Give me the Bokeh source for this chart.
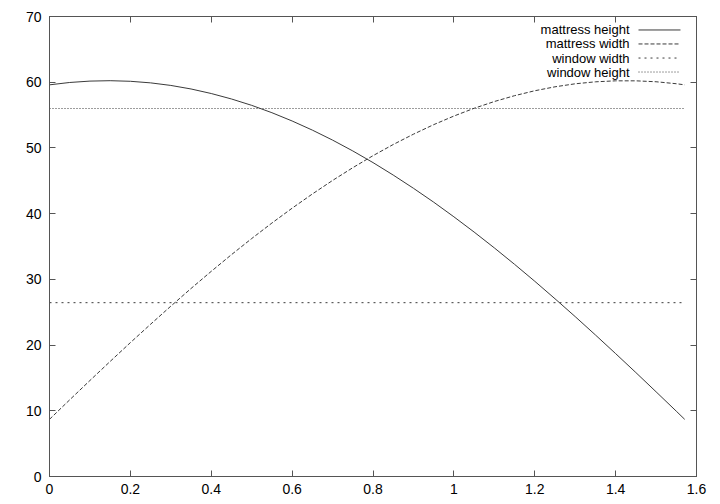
from bokeh.plotting import figure
from bokeh.models import LinearAxis, Range1d, FixedTicker
from bokeh.core.properties import value
from bokeh.embed import file_html
from bokeh.resources import INLINE

# ---- data ----
angle = [0.00, 0.05, 0.10, 0.15, 0.20, 0.25, 0.30, 0.35, 0.40, 0.45, 0.50,
         0.55, 0.60, 0.65, 0.70, 0.75, 0.80, 0.85, 0.90, 0.95, 1.00, 1.05,
         1.10, 1.15, 1.20, 1.25, 1.30, 1.35, 1.40, 1.45, 1.50, 1.55, 1.5708]
mattress_height = [59.60, 59.96, 60.17, 60.23, 60.14, 59.90, 59.51, 58.97, 58.28,
                   57.45, 56.48, 55.36, 54.10, 52.71, 51.19, 49.54, 47.77, 45.87,
                   43.86, 41.75, 39.52, 37.20, 34.79, 32.29, 29.71, 27.05, 24.33,
                   21.54, 18.70, 15.82, 12.89, 9.94, 8.70]
mattress_width = [8.70, 11.67, 14.61, 17.51, 20.37, 23.17, 25.92, 28.61, 31.22,
                  33.76, 36.21, 38.57, 40.83, 42.99, 45.05, 46.99, 48.82, 50.52,
                  52.09, 53.54, 54.85, 56.03, 57.06, 57.95, 58.70, 59.30, 59.76,
                  60.06, 60.21, 60.21, 60.07, 59.77, 59.60]
window_width_value = 26.45
window_height_value = 56.0
window_x = [0.0, 1.5708]

series_labels = ["mattress height", "mattress width", "window width", "window height"]
x_ticks = [0, 0.2, 0.4, 0.6, 0.8, 1.0, 1.2, 1.4, 1.6]
y_ticks = [0, 10, 20, 30, 40, 50, 60, 70]

# ---- styling ----
FONT = "Liberation Sans"
LINE_COLOR = "#3a3a3a"
FRAME_COLOR = "#555555"
dashes = ["solid", "4 2", "2 4", "1 2"]

p = figure(output_backend="svg", toolbar_location=None,
           frame_width=647, frame_height=460,
           min_border_left=49, min_border_right=16, min_border_top=16, min_border_bottom=24,
           x_range=Range1d(0, 1.6), y_range=Range1d(0, 70),
           x_axis_location=None, y_axis_location=None)
p.grid.visible = False
p.outline_line_color = FRAME_COLOR
p.outline_line_width = 1
p.background_fill_color = "white"
p.border_fill_color = "white"


def make_axis(show_labels):
    ax = LinearAxis()
    ax.axis_line_color = FRAME_COLOR
    ax.major_tick_line_color = FRAME_COLOR
    ax.major_tick_in = 6
    ax.major_tick_out = 0
    ax.minor_tick_line_color = None
    ax.major_label_text_font = FONT
    ax.major_label_text_font_size = "14px"
    ax.major_label_text_color = "black"
    ax.major_label_standoff = 8
    if not show_labels:
        ax.major_label_text_alpha = 0
        ax.major_label_text_font_size = "1px"
        ax.major_label_standoff = 0
    return ax


xb = make_axis(True)
xb.ticker = FixedTicker(ticks=x_ticks)
xb.major_label_standoff = 7
xb.major_label_overrides = {0: "0", 1.0: "1"}
p.add_layout(xb, "below")
yl = make_axis(True)
yl.ticker = FixedTicker(ticks=y_ticks)
p.add_layout(yl, "left")
xt = make_axis(False)
xt.ticker = FixedTicker(ticks=x_ticks)
p.add_layout(xt, "above")
yr = make_axis(False)
yr.ticker = FixedTicker(ticks=y_ticks)
p.add_layout(yr, "right")

# ---- curves ----
p.line(angle, mattress_height, line_color=LINE_COLOR, line_width=1, line_dash=dashes[0])
p.line(angle, mattress_width, line_color=LINE_COLOR, line_width=1, line_dash=dashes[1])
p.line(window_x, [window_width_value] * len(window_x), line_color=LINE_COLOR,
       line_width=1, line_dash=dashes[2])
p.line(window_x, [window_height_value] * len(window_x), line_color=LINE_COLOR,
       line_width=1, line_dash=dashes[3])

# ---- gnuplot-style key (text right-aligned, sample line on the right) ----
key_text_x = 1.4343
key_line_x0 = 1.4566
key_line_x1 = 1.5604
key_rows_y = [67.95, 65.82, 63.68, 61.55]
p.text(x=[key_text_x] * 4, y=key_rows_y, text=series_labels,
       text_align="right", text_baseline="middle",
       text_font=value(FONT), text_font_size="13px", text_color="black")
for yy, d in zip(key_rows_y, dashes):
    p.segment(x0=[key_line_x0], y0=[yy], x1=[key_line_x1], y1=[yy],
              line_color=LINE_COLOR, line_width=1, line_dash=d)

open("out.html", "w").write(file_html(p, INLINE))
